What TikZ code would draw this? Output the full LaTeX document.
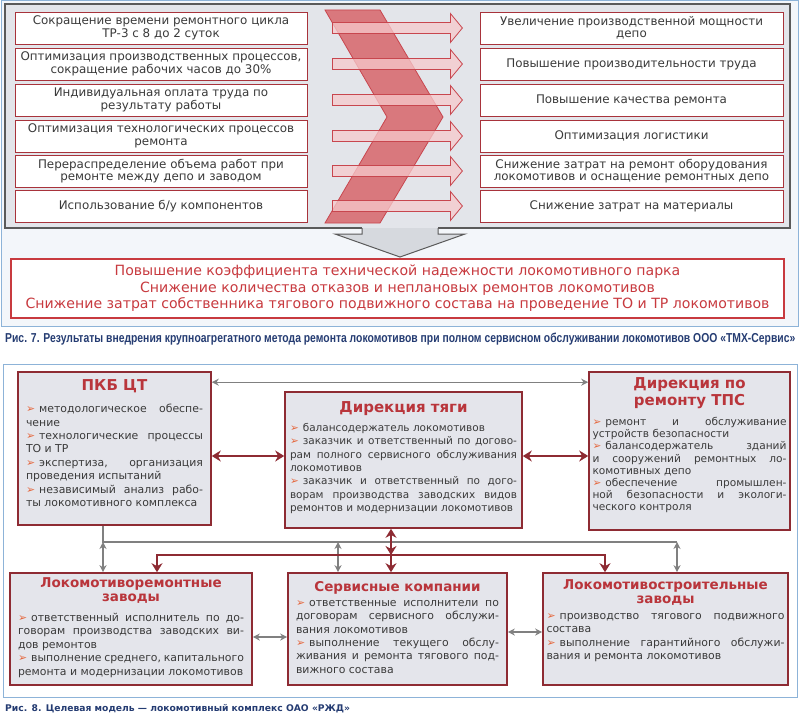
\documentclass[tikz,border=0pt]{standalone}
\usepackage{fontspec}
\setmainfont{DejaVu Sans}
\newfontfamily\capfont{Liberation Sans}
\usetikzlibrary{arrows.meta,calc}

\definecolor{boxred}{HTML}{A8333B}
\definecolor{titred}{HTML}{B9353B}
\definecolor{darkred}{HTML}{8E2B33}
\definecolor{panelgrey}{HTML}{E3E5EA}
\definecolor{arrgrey}{HTML}{D6D9DE}
\definecolor{boxgrey}{HTML}{E4E5EB}
\definecolor{framegrey}{HTML}{5A5A5A}
\definecolor{frameblue}{HTML}{8DB3D8}
\definecolor{paleblue}{HTML}{F3F6FA}
\definecolor{capblue}{HTML}{253C72}
\definecolor{txtgrey}{HTML}{3A3A3A}
\definecolor{bandred}{HTML}{D9787D}
\definecolor{arrpink}{HTML}{F7CACC}
\definecolor{arrline}{HTML}{C8464E}
\definecolor{bulorange}{HTML}{E4683E}
\definecolor{linegrey}{HTML}{808080}
\definecolor{resred}{HTML}{C83A3F}

\newcommand{\bul}{{\color{bulorange}\char"27A2}\kern4pt}
\newcommand{\orgfont}[2]{\fontsize{#1}{#2}\selectfont\tolerance=10000\relax\hyphenpenalty=10000\relax}

\begin{document}
\begin{tikzpicture}[x=1pt, y=-1pt,
  effbox/.style={draw=boxred, line width=0.8pt, fill=white, text=txtgrey, minimum height=32pt, inner sep=1pt, align=center, font=\fontsize{11.9}{12.5}\selectfont},
  leftbox/.style={effbox, minimum width=292pt},
  rightbox/.style={effbox, minimum width=303pt},
  orgbox/.style={draw=darkred, line width=1.6pt, fill=boxgrey},
  orgtitle/.style={anchor=north, inner sep=0pt, text=titred, align=center, font=\bfseries\fontsize{15}{17}\selectfont},
  lowtitle/.style={orgtitle, font=\bfseries\fontsize{13.5}{14.5}\selectfont},
  orgtext/.style={anchor=north, inner sep=0pt, text=txtgrey, align=justify, font=\orgfont{10.9}{13.4}},
  greyline/.style={draw=linegrey, line width=1.3pt},
  greyarr/.style={greyline, {Stealth[length=7pt,width=7pt]}-{Stealth[length=7pt,width=7pt]}},
  redarr/.style={draw=darkred, line width=2.6pt, {Stealth[length=9pt,width=11pt]}-{Stealth[length=9pt,width=11pt]}},
  reddown/.style={draw=darkred, line width=2.6pt, -{Stealth[length=9pt,width=11pt]}}]
\useasboundingbox (0,0) rectangle (800,717);

% Fig. 7
\draw[frameblue, line width=1pt, fill=paleblue] (1,1) rectangle (798,326);
\fill[panelgrey] (5,4) rectangle (790,228);
\draw[framegrey, line width=2pt] (362,228) -- (5,228) -- (5,4) -- (790,4) -- (790,228) -- (438,228);
\draw[framegrey, line width=1pt, fill=arrgrey] (362,228) -- (362,234) -- (335,234) -- (400,257) -- (465,234) -- (438,234) -- (438,228);

\node[leftbox] (l1) at (161,28) {Сокращение времени ремонтного цикла\\ТР-3 с 8 до 2 суток};
\node[leftbox] (l2) at (161,64) {Оптимизация производственных процессов,\\сокращение рабочих часов до 30\%};
\node[leftbox] (l3) at (161,100) {Индивидуальная оплата труда по\\результату работы};
\node[leftbox] (l4) at (161,136) {Оптимизация технологических процессов\\ремонта};
\node[leftbox] (l5) at (161,171) {Перераспределение объема работ при\\ремонте между депо и заводом};
\node[leftbox] (l6) at (161,206) {Использование б/у компонентов};

\node[rightbox] (r1) at (631.5,28) {Увеличение производственной мощности\\депо};
\node[rightbox] (r2) at (631.5,64) {Повышение производительности труда};
\node[rightbox] (r3) at (631.5,100) {Повышение качества ремонта};
\node[rightbox] (r4) at (631.5,136) {Оптимизация логистики};
\node[rightbox] (r5) at (631.5,171) {Снижение затрат на ремонт оборудования\\локомотивов и оснащение ремонтных депо};
\node[rightbox] (r6) at (631.5,206) {Снижение затрат на материалы};

\draw[arrline, line width=0.8pt, fill=bandred] (325,10) -- (380,10) -- (443,117) -- (380,223) -- (325,223) -- (387,117) -- cycle;
\foreach \i in {1,...,6}
  \draw[arrline, line width=0.8pt, fill=arrpink, fill opacity=0.75] ($(l\i.east)+(25,-5.5)$) -- ++(118,0) -- ++(0,-9) -- ++(12,14.5) -- ++(-12,14.5) -- ++(0,-9) -- ++(-118,0) -- cycle;

\node[draw=resred, line width=1.2pt, fill=white, minimum width=773pt, minimum height=59pt, text=resred, align=center, font=\fontsize{14.1}{16.5}\selectfont] (res) at (397.5,288.5) {Повышение коэффициента технической надежности локомотивного парка\\Снижение количества отказов и неплановых ремонтов локомотивов\\Снижение затрат собственника тягового подвижного состава на проведение ТО и ТР локомотивов};

\node[anchor=base west, inner sep=0pt, text=capblue] (cap7) at (5,342) {\resizebox{790pt}{9.5pt}{\capfont\bfseries Рис. 7. Результаты внедрения крупноагрегатного метода ремонта локомотивов при полном сервисном обслуживании локомотивов ООО «ТМХ-Сервис»}};

% Fig. 8
\draw[frameblue, line width=1pt, fill=white] (3,364) rectangle (797,697);

\node[orgbox, minimum width=193pt, minimum height=153pt] (pkb) at (114.5,448.5) {};
\node[orgbox, minimum width=237pt, minimum height=136pt] (tyaga) at (403.5,460) {};
\node[orgbox, minimum width=201pt, minimum height=158pt] (tps) at (689.5,451) {};
\node[orgbox, minimum width=242pt, minimum height=112pt] (lrz) at (131,629) {};
\node[orgbox, minimum width=219pt, minimum height=112pt] (serv) at (397.5,629) {};
\node[orgbox, minimum width=245pt, minimum height=112pt] (lsz) at (665.5,629) {};

\node[orgtitle] at (114.5,379.5) {ПКБ ЦТ};
\node[orgtext, text width=177pt] at (114.5,404) {\bul методологическое обеспе-\linebreak чение\par
\bul технологические процессы\linebreak ТО и ТР\par
\bul экспертиза, организация\linebreak проведения испытаний\par
\bul независимый анализ рабо-\linebreak ты локомотивного комплекса};

\node[orgtitle] at (403.5,401) {Дирекция тяги};
\node[orgtext, text width=227pt, font=\orgfont{10.5}{13.4}] at (403.5,423) {\bul балансодержатель локомотивов\par
\bul заказчик и ответственный по догово-\linebreak рам полного сервисного обслуживания\linebreak локомотивов\par
\bul заказчик и ответственный по дого-\linebreak ворам производства заводских видов\linebreak ремонтов и модернизации локомотивов};

\node[orgtitle] at (689.5,377) {Дирекция по\\ремонту ТПС};
\node[orgtext, text width=194pt, font=\orgfont{10.6}{12.2}] at (689.5,417) {\bul ремонт и обслуживание\linebreak устройств безопасности\par
\bul балансодержатель зданий\linebreak и сооружений ремонтных ло-\linebreak комотивных депо\par
\bul обеспечение промышлен-\linebreak ной безопасности и экологи-\linebreak ческого контроля};

\node[lowtitle] at (131,577) {Локомотиворемонтные\\заводы};
\node[orgtext, text width=226pt] at (131,613) {\bul ответственный исполнитель по до-\linebreak говорам производства заводских ви-\linebreak дов ремонтов\par
\bul выполнение среднего, капитального\linebreak ремонта и модернизации локомотивов};

\node[lowtitle] at (397.5,581) {Сервисные компании};
\node[orgtext, text width=203pt] at (397.5,600) {\bul ответственные исполнители по\linebreak договорам сервисного обслужи-\linebreak вания локомотивов\par
\bul выполнение текущего обслу-\linebreak живания и ремонта тягового под-\linebreak вижного состава};

\node[lowtitle] at (665.5,579) {Локомотивостроительные\\заводы};
\node[orgtext, text width=238pt] at (665.5,613) {\bul производство тягового подвижного\linebreak состава\par
\bul выполнение гарантийного обслужи-\linebreak вания и ремонта локомотивов};

\draw[greyarr] ([yshift=-11pt]pkb.north east) -- ([yshift=-11pt]pkb.north east -| tps.west);
\draw[redarr] ($(pkb.east |- tyaga.west)+(0,-4)$) -- ($(tyaga.west)+(0,-4)$);
\draw[redarr] ($(tyaga.east)+(0,-4)$) -- ($(tps.west |- tyaga.east)+(0,-4)$);

\coordinate (gl) at (103,542);
\coordinate (gm) at (338,542);
\coordinate (gr) at (677,542);
\draw[greyline] (pkb.south -| gl) -- (gl) -- (gr);
\draw[greyarr] (gl) -- (lrz.north -| gl);
\draw[greyarr] (gm) -- (serv.north -| gm);
\draw[greyarr] (gr) -- (lsz.north -| gr);

\coordinate (rl) at (157,555);
\coordinate (rm) at (391,555);
\coordinate (rr) at (605,555);
\draw[redarr] (tyaga.south -| rm) -- (rm);
\draw[redarr] (lrz.north -| rl) -- (rl) -- (rr) -- (lsz.north -| rr);
\draw[reddown] (rm) -- (serv.north -| rm);

\draw[greyarr] ($(lrz.east)+(0,8)$) -- ($(serv.west |- lrz.east)+(0,8)$);
\draw[greyarr] ($(serv.east)+(0,3)$) -- ($(lsz.west |- serv.east)+(0,3)$);

\node[anchor=base west, inner sep=0pt, text=capblue, font=\bfseries\fontsize{9.2}{11}\selectfont] (cap8) at (5,711.5) {Рис. 8. Целевая модель — локомотивный комплекс ОАО «РЖД»};
\end{tikzpicture}
\end{document}
